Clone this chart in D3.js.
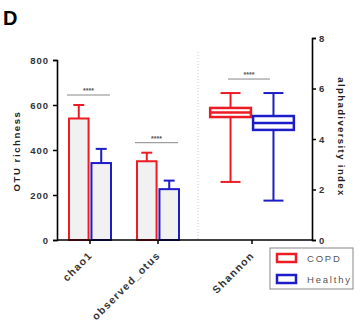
<!DOCTYPE html>
<html>
<head>
<script src="https://d3js.org/d3.v7.min.js"></script>
<style>
  body { margin: 0; background: #fff; }
  text { font-family: Arial, "Liberation Sans", sans-serif; }
</style>
</head>
<body>
<svg width="360" height="328"></svg>
<script>
// data
var groups = ["COPD", "Healthy"];
var colors = ["#ec1c24", "#1c1cc8"];
var richCats = ["chao1", "observed_otus"];
var richMean = { COPD: [540, 350], Healthy: [342, 226] };
var richErr = { COPD: [600, 388], Healthy: [405, 264] };
var divCat = ["Shannon"];
// min, q1, median, q3, max
var shannonBox = { COPD: [2.3, 4.87, 5.05, 5.23, 5.82], Healthy: [1.56, 4.36, 4.63, 4.91, 5.82] };
var leftTicks = [0, 200, 400, 600, 800];
var rightTicks = [0, 2, 4, 6, 8];

var svg = d3.select("svg");
var color = d3.scaleOrdinal().domain(groups).range(colors);

var yL = d3.scaleLinear().domain([0, 800]).range([240, 60]);
var yR = d3.scaleLinear().domain([0, 8]).range([240, 38]);
var xL = d3.scaleBand().domain(richCats).range([56, 192]);
var xR = d3.scaleBand().domain(divCat).range([198, 306]);
var subBar = d3.scaleBand().domain(groups).range([-22, 22]).paddingInner(0.04);
var subBox = d3.scaleBand().domain(groups).range([-44, 44]).padding(0.05);

svg.append("text").attr("x", 3).attr("y", 25)
   .style("font-size", "20px").style("font-weight", "bold").text("D");

// separator
svg.append("line").attr("x1", 198).attr("x2", 198).attr("y1", 52).attr("y2", 240)
   .attr("stroke", "#ccc").attr("stroke-dasharray", "1,2").attr("stroke-width", 1);

// bars
richCats.forEach(function(c, i) {
  groups.forEach(function(g) {
    var cx = xL(c) + xL.bandwidth() / 2 + subBar(g);
    var w = subBar.bandwidth();
    var mid = cx + w / 2;
    svg.append("line").attr("x1", mid).attr("x2", mid)
       .attr("y1", yL(richMean[g][i])).attr("y2", yL(richErr[g][i]))
       .attr("stroke", color(g)).attr("stroke-width", 2);
    svg.append("line").attr("x1", mid - 5.5).attr("x2", mid + 5.5)
       .attr("y1", yL(richErr[g][i])).attr("y2", yL(richErr[g][i]))
       .attr("stroke", color(g)).attr("stroke-width", 2);
    svg.append("rect").attr("x", cx + 1).attr("width", w - 2)
       .attr("y", yL(richMean[g][i])).attr("height", yL(0) - yL(richMean[g][i]))
       .attr("fill", "#f1f1f1").attr("stroke", color(g)).attr("stroke-width", 2);
  });
});

// boxes
divCat.forEach(function(c) {
  groups.forEach(function(g) {
    var b = shannonBox[g];
    var x0 = xR(c) + xR.bandwidth() / 2 + subBox(g);
    var w = subBox.bandwidth();
    var mid = x0 + w / 2;
    var st = color(g);
    svg.append("line").attr("x1", mid).attr("x2", mid).attr("y1", yR(b[0])).attr("y2", yR(b[4]))
       .attr("stroke", st).attr("stroke-width", 2);
    [b[0], b[4]].forEach(function(v) {
      svg.append("line").attr("x1", mid - 10).attr("x2", mid + 10).attr("y1", yR(v)).attr("y2", yR(v))
         .attr("stroke", st).attr("stroke-width", 2);
    });
    svg.append("rect").attr("x", x0).attr("width", w).attr("y", yR(b[3]))
       .attr("height", yR(b[1]) - yR(b[3])).attr("fill", "#fff")
       .attr("stroke", st).attr("stroke-width", 2.5);
    svg.append("line").attr("x1", x0).attr("x2", x0 + w).attr("y1", yR(b[2])).attr("y2", yR(b[2]))
       .attr("stroke", st).attr("stroke-width", 2.5);
  });
});

// significance
function sig(xa, xb, y) {
  svg.append("line").attr("x1", xa).attr("x2", xb).attr("y1", y).attr("y2", y)
     .attr("stroke", "#888").attr("stroke-width", 1);
  svg.append("text").attr("x", (xa + xb) / 2).attr("y", y - 2).attr("text-anchor", "middle")
     .style("font-size", "7px").style("font-weight", "bold").attr("fill", "#555").text("****");
}
richCats.forEach(function(c, i) {
  sig(xL(c) + xL.bandwidth() / 2 - 23, xL(c) + xL.bandwidth() / 2 + 20, yL(richErr.COPD[i]) - 10);
});
sig(xR("Shannon") + xR.bandwidth() / 2 - 24, xR("Shannon") + xR.bandwidth() / 2 + 18, yR(5.82) - 14);

// axes
var axL = svg.append("g").attr("transform", "translate(57,0)")
   .call(d3.axisLeft(yL).tickValues(leftTicks).tickSize(4).tickPadding(4));
var axR = svg.append("g").attr("transform", "translate(312,0)")
   .call(d3.axisRight(yR).tickValues(rightTicks).tickSize(4).tickPadding(3));
[axL, axR].forEach(function(a) {
  a.select(".domain").attr("stroke-width", 1.6);
  a.selectAll(".tick line").attr("stroke-width", 1.5);
  a.selectAll("text").style("font-size", "9.5px").style("font-weight", "bold")
   .style("font-family", "Arial, sans-serif").attr("fill", "#333").style("letter-spacing", "1px");
});
svg.append("line").attr("x1", 57).attr("x2", 312).attr("y1", 240).attr("y2", 240)
   .attr("stroke", "#000").attr("stroke-width", 1.6);

// x ticks and labels
var xLabels = richCats.map(function(c) { return { name: c, x: xL(c) + xL.bandwidth() / 2 }; })
  .concat(divCat.map(function(c) { return { name: c, x: xR(c) + xR.bandwidth() / 2 }; }));
xLabels.forEach(function(d) {
  svg.append("line").attr("x1", d.x).attr("x2", d.x).attr("y1", 240).attr("y2", 244)
     .attr("stroke", "#000").attr("stroke-width", 1.5);
  svg.append("text").attr("transform", "translate(" + (d.x + 3) + ",256) rotate(-45)")
     .attr("text-anchor", "end").style("font-size", "10.5px").style("font-weight", "bold")
     .style("letter-spacing", "1.3px").attr("fill", "#333").text(d.name);
});

// axis titles
svg.append("text").attr("transform", "translate(20,151) rotate(-90)").attr("text-anchor", "middle")
   .style("font-size", "9.5px").style("font-weight", "bold").style("letter-spacing", "1.6px")
   .attr("fill", "#222").text("OTU richness");
svg.append("text").attr("transform", "translate(338,137) rotate(90)").attr("text-anchor", "middle")
   .style("font-size", "9.5px").style("font-weight", "bold").style("letter-spacing", "1.4px")
   .attr("fill", "#222").text("alphadiversity index");

// legend
var lg = svg.append("g").attr("transform", "translate(270,248)");
lg.append("rect").attr("width", 83).attr("height", 41).attr("fill", "#fff")
  .attr("stroke", "#888").attr("stroke-width", 1);
groups.forEach(function(g, i) {
  lg.append("rect").attr("x", 7).attr("y", 6 + i * 21).attr("width", 19).attr("height", 8)
    .attr("fill", "#fff").attr("stroke", color(g)).attr("stroke-width", 2.5);
  lg.append("text").attr("x", 37).attr("y", 14 + i * 21).style("font-size", "9.5px")
    .style("letter-spacing", "1.8px").attr("fill", "#555").text(g);
});
</script>
</body>
</html>
